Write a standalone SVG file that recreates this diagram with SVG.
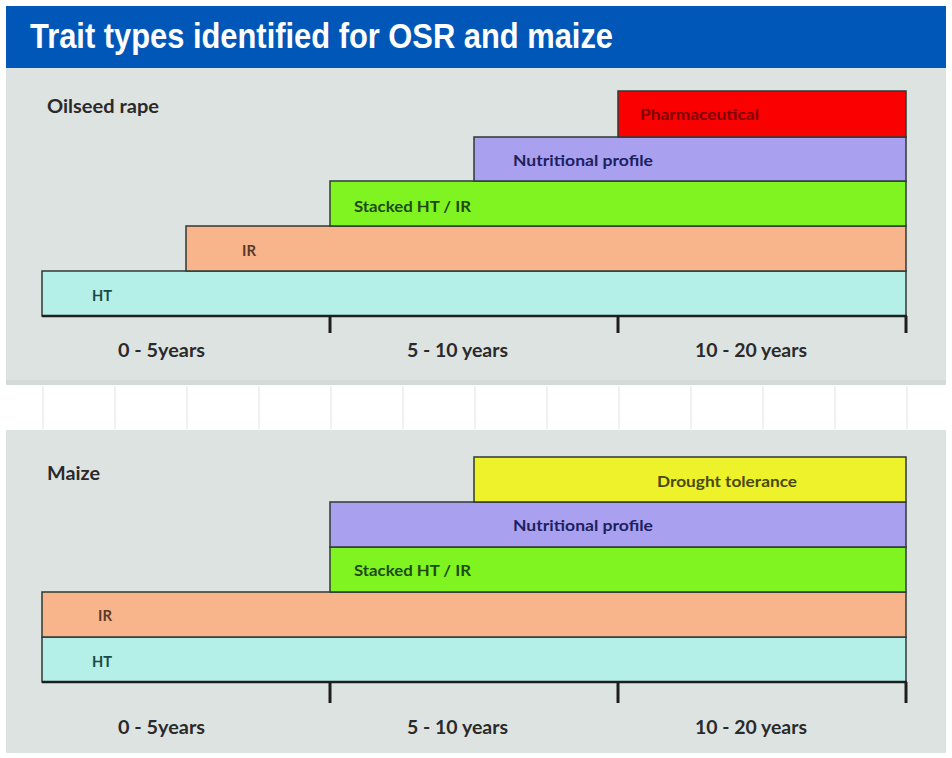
<svg xmlns="http://www.w3.org/2000/svg" width="952" height="758" viewBox="0 0 952 758">
<style>
.bar{stroke:#2f3a36;stroke-width:1.5}
.lbl{font-family:Lato,"Liberation Sans",sans-serif;font-weight:bold;font-size:15px}
.sec{font-family:Lato,"Liberation Sans",sans-serif;font-weight:bold;font-size:18px;fill:#2a2a2a}
.ax{font-family:Lato,"Liberation Sans",sans-serif;font-weight:bold;font-size:18px;fill:#2a2a2a}
.axis{stroke:#1e1e1e;stroke-width:2.5;fill:none}
.tick{stroke:#1e1e1e;stroke-width:3}
.grid{stroke:#e3e9e6;stroke-width:1.2}
</style>
<rect x="0" y="0" width="952" height="758" fill="#ffffff"/>
<!-- title -->
<g id="title">
<rect x="6" y="6" width="940" height="62" fill="#0057b8"/>
<text x="30" y="48" font-family="Liberation Sans, Arial, sans-serif" font-weight="bold" font-size="35" fill="#ffffff" textLength="583" lengthAdjust="spacingAndGlyphs">Trait types identified for OSR and maize</text>
</g>
<!-- panels -->
<rect x="6" y="68" width="940" height="317" fill="#dde3e0"/>
<rect x="6" y="430" width="940" height="323" fill="#dde3e0"/>
<rect x="6" y="380" width="940" height="5" fill="#d4dad7"/>
<g id="band">
<line class="grid" x1="43" y1="386" x2="43" y2="429"/>
<line class="grid" x1="115" y1="386" x2="115" y2="429"/>
<line class="grid" x1="187" y1="386" x2="187" y2="429"/>
<line class="grid" x1="259" y1="386" x2="259" y2="429"/>
<line class="grid" x1="331" y1="386" x2="331" y2="429"/>
<line class="grid" x1="403" y1="386" x2="403" y2="429"/>
<line class="grid" x1="475" y1="386" x2="475" y2="429"/>
<line class="grid" x1="547" y1="386" x2="547" y2="429"/>
<line class="grid" x1="619" y1="386" x2="619" y2="429"/>
<line class="grid" x1="691" y1="386" x2="691" y2="429"/>
<line class="grid" x1="763" y1="386" x2="763" y2="429"/>
<line class="grid" x1="835" y1="386" x2="835" y2="429"/>
<line class="grid" x1="907" y1="386" x2="907" y2="429"/>
</g>

<!-- Oilseed rape -->
<text class="sec" x="47" y="113" textLength="112" lengthAdjust="spacingAndGlyphs">Oilseed rape</text>
<g id="osr-ht">
<rect class="bar" x="42" y="271" width="864" height="45" fill="#b4f0e8"/>
<text class="lbl" x="92" y="301" fill="#1a4a48" textLength="20" lengthAdjust="spacingAndGlyphs">HT</text>
</g>
<g id="osr-ir">
<rect class="bar" x="186" y="226" width="720" height="45" fill="#f8b48a"/>
<text class="lbl" x="242" y="256" fill="#5a3a28" textLength="14" lengthAdjust="spacingAndGlyphs">IR</text>
</g>
<g id="osr-stacked">
<rect class="bar" x="330" y="181" width="576" height="45" fill="#80f420"/>
<text class="lbl" x="354" y="212" fill="#1e4a14" textLength="117" lengthAdjust="spacingAndGlyphs">Stacked HT / IR</text>
</g>
<g id="osr-nutritional">
<rect class="bar" x="474" y="137" width="432" height="44" fill="#a9a0f0"/>
<text class="lbl" x="513" y="166" fill="#20205e" textLength="140" lengthAdjust="spacingAndGlyphs">Nutritional profile</text>
</g>
<g id="osr-pharma">
<rect class="bar" x="618" y="91" width="288" height="46" fill="#fa0000"/>
<text class="lbl" x="640" y="120" fill="#7a0000" textLength="119" lengthAdjust="spacingAndGlyphs">Pharmaceutical</text>
</g>

<!-- Maize -->
<text class="sec" x="47" y="480" textLength="53" lengthAdjust="spacingAndGlyphs">Maize</text>
<g id="maize-ht">
<rect class="bar" x="42" y="637" width="864" height="45" fill="#b4f0e8"/>
<text class="lbl" x="92" y="667" fill="#1a4a48" textLength="20" lengthAdjust="spacingAndGlyphs">HT</text>
</g>
<g id="maize-ir">
<rect class="bar" x="42" y="592" width="864" height="45" fill="#f8b48a"/>
<text class="lbl" x="98" y="621" fill="#5a3a28" textLength="14" lengthAdjust="spacingAndGlyphs">IR</text>
</g>
<g id="maize-stacked">
<rect class="bar" x="330" y="547" width="576" height="45" fill="#80f420"/>
<text class="lbl" x="354" y="576" fill="#1e4a14" textLength="117" lengthAdjust="spacingAndGlyphs">Stacked HT / IR</text>
</g>
<g id="maize-nutritional">
<rect class="bar" x="330" y="502" width="576" height="45" fill="#a9a0f0"/>
<text class="lbl" x="513" y="531" fill="#20205e" textLength="140" lengthAdjust="spacingAndGlyphs">Nutritional profile</text>
</g>
<g id="maize-drought">
<rect class="bar" x="474" y="457" width="432" height="45" fill="#eef22a"/>
<text class="lbl" x="657" y="487" fill="#4a4a10" textLength="140" lengthAdjust="spacingAndGlyphs">Drought tolerance</text>
</g>

<!-- axes -->
<g id="connectors">
<line class="axis" x1="42" y1="316" x2="907" y2="316"/>
<line class="tick" x1="330" y1="316" x2="330" y2="333"/>
<line class="tick" x1="618" y1="316" x2="618" y2="333"/>
<line class="tick" x1="906" y1="316" x2="906" y2="333"/>
<line class="axis" x1="42" y1="682" x2="907" y2="682"/>
<line class="tick" x1="330" y1="682" x2="330" y2="703"/>
<line class="tick" x1="618" y1="682" x2="618" y2="703"/>
<line class="tick" x1="906" y1="682" x2="906" y2="703"/>
</g>
<g id="axis-labels">
<text class="ax" x="118" y="357" textLength="87" lengthAdjust="spacingAndGlyphs">0 - 5years</text>
<text class="ax" x="407" y="357" textLength="101" lengthAdjust="spacingAndGlyphs">5 - 10 years</text>
<text class="ax" x="695" y="357" textLength="112" lengthAdjust="spacingAndGlyphs">10 - 20 years</text>
<text class="ax" x="118" y="734" textLength="87" lengthAdjust="spacingAndGlyphs">0 - 5years</text>
<text class="ax" x="407" y="734" textLength="101" lengthAdjust="spacingAndGlyphs">5 - 10 years</text>
<text class="ax" x="695" y="734" textLength="112" lengthAdjust="spacingAndGlyphs">10 - 20 years</text>
</g>
</svg>
